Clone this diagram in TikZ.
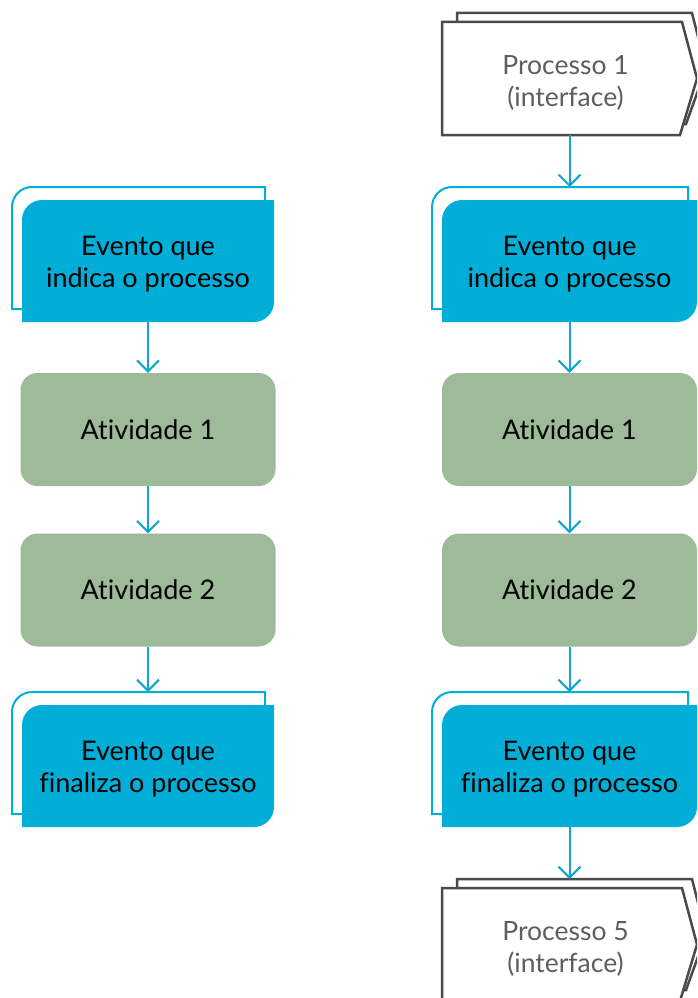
\documentclass[tikz,border=0pt]{standalone}
\usepackage{fontspec}
\setmainfont{Lato}[Ligatures=NoCommon]
\usetikzlibrary{arrows.meta,calc}

\definecolor{evblue}{HTML}{00AED7}
\definecolor{actgreen}{HTML}{9DBB98}
\definecolor{flowblue}{HTML}{12A5D3}
\definecolor{procgray}{HTML}{4A4A4A}
\definecolor{proctext}{HTML}{5E5E5E}

\tikzset{
  boxarea/.style={inner sep=0pt, minimum width=#1, minimum height=122pt},
  evtext/.style={inner sep=0pt, align=center, text=black, yshift=-3pt,
    font=\fontsize{27}{32}\selectfont},
  activity/.style={fill=actgreen, rounded corners=17pt, inner sep=0pt,
    minimum width=255pt, minimum height=113pt, text=black,
    font=\fontsize{27}{32}\selectfont},
  procarea/.style={inner sep=0pt, minimum width=254pt, minimum height=113pt},
  proctextstyle/.style={inner sep=0pt, align=center, text=proctext,
    xshift=-4pt, yshift=-4pt, font=\fontsize{26.5}{32}\selectfont},
  evback/.style={draw=evblue, line width=2pt, fill=white},
  evfront/.style={fill=evblue},
  procline/.style={draw=procgray, line width=2.5pt, fill=white, line join=miter},
  flow/.style={draw=flowblue, line width=2pt,
    -{Straight Barb[length=11pt,width=22pt,line width=2pt]}},
}

% event: front box x1 y1 x2 y2, stacked outline behind it
\newcommand\evshape[4]{%
  \draw[evback] ({#3-9},{#2+4}) -- ({#3-9},{#2-13}) -- ({#1+10},{#2-13})
    .. controls ({#1-1},{#2-13}) and ({#1-10},{#2-4}) .. ({#1-10},{#2+7})
    -- ({#1-10},{#4-13}) -- ({#1+4},{#4-13});
  \fill[evfront] (#1,#4) -- (#1,{#2+20})
    .. controls (#1,{#2+9}) and ({#1+9},#2) .. ({#1+20},#2)
    -- (#3,#2) -- (#3,{#4-20})
    .. controls (#3,{#4-9}) and ({#3-9},#4) .. ({#3-20},#4) -- cycle;
}

% process interface: front box x1 y1 x2 y2 (x2 = top right corner), with a second sheet behind
\newcommand\procshape[4]{%
  \draw[procline] ({#1+15},{#2-9}) -- ({#3+10},{#2-9}) -- ({#3+24},{(#2+#4)/2-10})
    -- ({#3+4},{#4-11}) -- ({#1+15},{#4-11}) -- cycle;
  \draw[procline] (#1,#2) -- (#3,#2) -- ({#3+15},{(#2+#4)/2})
    -- ({#3-2},#4) -- (#1,#4) -- cycle;
}

\begin{document}
\begin{tikzpicture}[x=1pt,y=-1pt]
  \useasboundingbox (0,0) rectangle (697,998);
  \clip (0,0) rectangle (697,998);

  % shapes
  \evshape{22}{200}{274}{322}
  \evshape{22}{705}{274}{827}
  \procshape{442}{22}{682}{135}
  \evshape{442}{200}{697}{322}
  \evshape{442}{705}{697}{827}
  \procshape{442}{888}{682}{1001}

  % left column
  \node[boxarea=252pt] (le1) at (148,261) {};
  \node[evtext] (le1t) at (le1.center) {Evento que\\indica o processo};
  \node[activity] (la1) at (148,429.5) {Atividade 1};
  \node[activity] (la2) at (148,590) {Atividade 2};
  \coordinate (le2top) at (148,692);
  \node[boxarea=252pt] (le2) at (148,766) {};
  \node[evtext] (le2t) at (le2.center) {Evento que\\finaliza o processo};

  % right column
  \node[procarea] (p1) at (569.5,78.5) {};
  \node[proctextstyle] (p1t) at (p1.center) {Processo 1\\(interface)};
  \coordinate (re1top) at (569.5,187);
  \node[boxarea=255pt] (re1) at (569.5,261) {};
  \node[evtext] (re1t) at (re1.center) {Evento que\\indica o processo};
  \node[activity] (ra1) at (569.5,429.5) {Atividade 1};
  \node[activity] (ra2) at (569.5,590) {Atividade 2};
  \coordinate (re2top) at (569.5,692);
  \node[boxarea=255pt] (re2) at (569.5,766) {};
  \node[evtext] (re2t) at (re2.center) {Evento que\\finaliza o processo};
  \coordinate (p5top) at (569.5,879);
  \node[procarea] (p5) at (569.5,944.5) {};
  \node[proctextstyle] (p5t) at (p5.center) {Processo 5\\(interface)};

  % connectors
  \draw[flow] (le1.south) -- (la1.north);
  \draw[flow] (la1.south) -- (la2.north);
  \draw[flow] (la2.south) -- (le2top);
  \draw[flow] (p1.south) -- (re1top);
  \draw[flow] (re1.south) -- (ra1.north);
  \draw[flow] (ra1.south) -- (ra2.north);
  \draw[flow] (ra2.south) -- (re2top);
  \draw[flow] (re2.south) -- (p5top);
\end{tikzpicture}
\end{document}
